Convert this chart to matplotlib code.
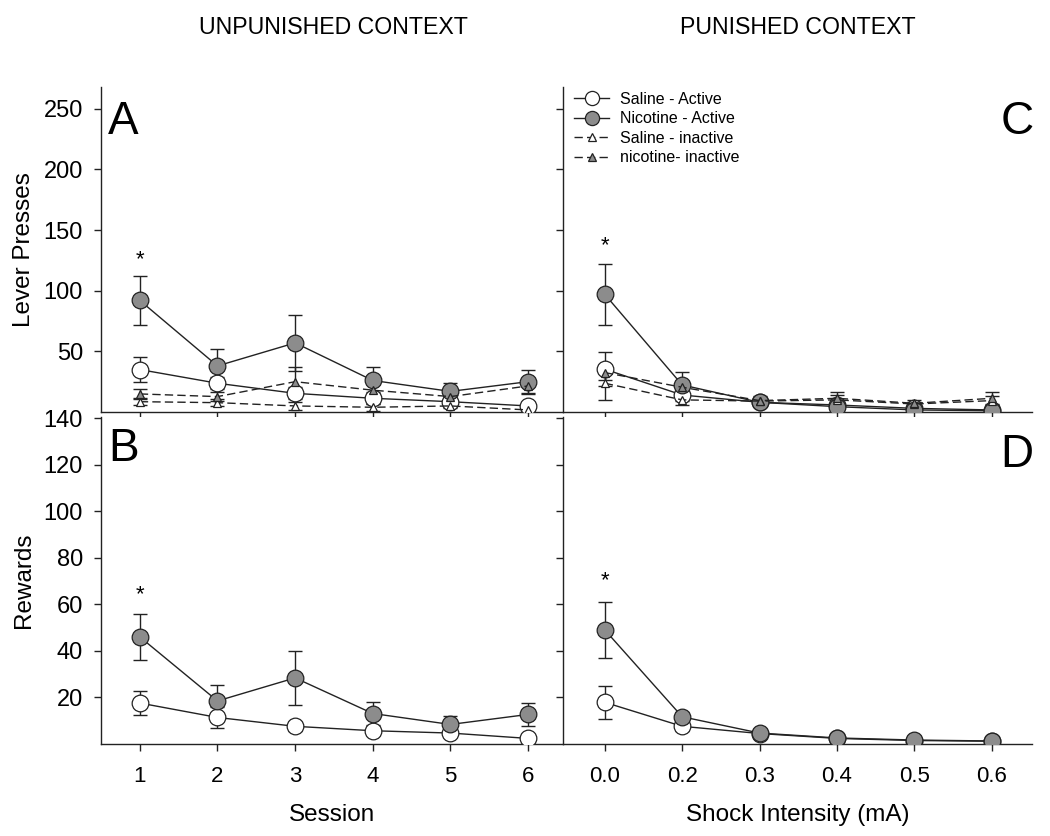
import numpy as np
import matplotlib
matplotlib.use('Agg')
import matplotlib.pyplot as plt

plt.rcParams['font.family'] = ['Liberation Sans', 'DejaVu Sans']

# dados
sessoes = [1, 2, 3, 4, 5, 6]
choques = ['0.0', '0.2', '0.3', '0.4', '0.5', '0.6']

# painel A - pressoes na alavanca, contexto sem punicao
a_sal_ativo = [35, 23.7, 15.4, 11.3, 8.5, 5]
a_sal_ativo_ep = [10, 5, 5, 5, 3, 3]
a_nic_ativo = [92, 38, 57, 26, 17, 25]
a_nic_ativo_ep = [20, 14, 23, 11, 7, 10]
a_sal_inat = [8.5, 7.7, 5, 3.9, 5, 1.7]
a_sal_inat_ep = [3, 3, 3, 3, 2, 2]
a_nic_inat = [14.9, 12.7, 25, 18, 12.7, 21.5]
a_nic_inat_ep = [4, 4, 12, 5, 4, 6]

# painel C - pressoes na alavanca, contexto punido
c_sal_ativo = [35.3, 14, 8, 5.8, 3, 1.7]
c_sal_ativo_ep = [14, 5, 3, 3, 2, 2]
c_nic_ativo = [97, 22.3, 8, 4.4, 1.7, 1]
c_nic_ativo_ep = [25, 11, 3, 3, 2, 2]
c_sal_inat = [23.7, 10, 9, 10, 6.6, 9.4]
c_sal_inat_ep = [14, 4, 3, 4, 2, 4]
c_nic_inat = [32.5, 20.4, 9.4, 11.3, 7.2, 11.3]
c_nic_inat_ep = [6, 5, 4, 5, 3, 5]

# painel B - recompensas, contexto sem punicao
b_sal = [17.6, 11.4, 7.6, 5.7, 4.7, 2.4]
b_sal_ep = [5.2, 4.5, 2, 2, 1, 1]
b_nic = [46, 18.5, 28.4, 13.1, 8.4, 12.7]
b_nic_ep = [10, 7, 11.6, 5, 3.6, 5]

# painel D - recompensas, contexto punido
d_sal = [17.9, 7.6, 4.5, 2.4, 1.5, 1.2]
d_sal_ep = [7, 2, 1, 1, 0.5, 0.5]
d_nic = [49, 11.7, 4.7, 2.6, 1.7, 1.3]
d_nic_ep = [12, 2, 1, 1, 0.5, 0.5]

cinza = '#8c8c8c'
fig = plt.figure(figsize=(10.5, 8.36), dpi=100)

W, H = 1050, 836
def eixo(x0, x1, y0, y1):
    return fig.add_axes([x0 / W, (H - y1) / H, (x1 - x0) / W, (y1 - y0) / H])

ax_a = eixo(101, 563, 87, 412)
ax_c = eixo(563, 1032, 87, 412)
ax_b = eixo(101, 563, 417, 744)
ax_d = eixo(563, 1032, 417, 744)

def serie(ax, x, y, ep, face, tracejado=False, triangulo=False, rotulo=None):
    ax.errorbar(x, y, yerr=ep, fmt='none', ecolor='#222222', elinewidth=1,
                capsize=5, capthick=1, zorder=2)
    ax.plot(x, y, linestyle='--' if tracejado else '-', color='#222222', lw=1,
            marker='^' if triangulo else 'o', ms=6 if triangulo else 12,
            mfc=face, mec='#222222', mew=0.9, label=rotulo, zorder=3,
            dashes=(6, 3) if tracejado else (None, None))

xs = np.array(sessoes)
xc = np.arange(len(choques))

serie(ax_a, xs, a_sal_ativo, a_sal_ativo_ep, 'white')
serie(ax_a, xs, a_nic_ativo, a_nic_ativo_ep, cinza)
serie(ax_a, xs, a_sal_inat, a_sal_inat_ep, 'white', True, True)
serie(ax_a, xs, a_nic_inat, a_nic_inat_ep, cinza, True, True)

serie(ax_c, xc, c_sal_ativo, c_sal_ativo_ep, 'white', rotulo='Saline - Active')
serie(ax_c, xc, c_nic_ativo, c_nic_ativo_ep, cinza, rotulo='Nicotine - Active')
serie(ax_c, xc, c_sal_inat, c_sal_inat_ep, 'white', True, True, rotulo='Saline - inactive')
serie(ax_c, xc, c_nic_inat, c_nic_inat_ep, cinza, True, True, rotulo='nicotine- inactive')

serie(ax_b, xs, b_sal, b_sal_ep, 'white')
serie(ax_b, xs, b_nic, b_nic_ep, cinza)

serie(ax_d, xc, d_sal, d_sal_ep, 'white')
serie(ax_d, xc, d_nic, d_nic_ep, cinza)

for ax in [ax_a, ax_b, ax_c, ax_d]:
    for lado in ['top', 'right']:
        ax.spines[lado].set_visible(False)
    for lado in ['left', 'bottom']:
        ax.spines[lado].set_linewidth(1)
        ax.spines[lado].set_color('#222222')
    ax.tick_params(direction='out', length=5, width=1, labelsize=17, color='#222222')
    ax.tick_params(axis='y', pad=8)

ax_a.set_xlim(0.5, 6.45)
ax_b.set_xlim(0.5, 6.45)
ax_c.set_xlim(-0.54, 5.52)
ax_d.set_xlim(-0.54, 5.52)
ax_a.set_ylim(0, 268)
ax_c.set_ylim(0, 268)
ax_b.set_ylim(0, 140.5)
ax_d.set_ylim(0, 140.5)

ax_a.set_yticks([50, 100, 150, 200, 250])
ax_c.set_yticks([50, 100, 150, 200, 250])
ax_b.set_yticks([20, 40, 60, 80, 100, 120, 140])
ax_d.set_yticks([20, 40, 60, 80, 100, 120, 140])
ax_c.set_yticklabels([])
ax_d.set_yticklabels([])

ax_a.set_xticks(xs)
ax_a.set_xticklabels([])
ax_b.set_xticks(xs)
ax_b.set_xticklabels([str(s) for s in sessoes])
ax_c.set_xticks(xc)
ax_c.set_xticklabels([])
ax_d.set_xticks(xc)
ax_d.set_xticklabels(choques)
ax_b.tick_params(axis='x', pad=11, labelsize=16)
ax_d.tick_params(axis='x', pad=11, labelsize=16)

ax_a.set_ylabel('Lever Presses', fontsize=17.5, labelpad=6)
ax_b.set_ylabel('Rewards', fontsize=17.5, labelpad=6)
ax_b.set_xlabel('Session', fontsize=17.5, labelpad=12)
ax_d.set_xlabel('Shock Intensity (mA)', fontsize=17.5, labelpad=12)

# letras dos paineis
ax_a.text(0.015, 0.96, 'A', transform=ax_a.transAxes, fontsize=33, va='top', ha='left')
ax_b.text(0.015, 0.97, 'B', transform=ax_b.transAxes, fontsize=33, va='top', ha='left')
ax_c.text(1.003, 0.96, 'C', transform=ax_c.transAxes, fontsize=33, va='top', ha='right')
ax_d.text(1.003, 0.95, 'D', transform=ax_d.transAxes, fontsize=33, va='top', ha='right')

# asteriscos
ax_a.text(1, 126, '*', fontsize=16, ha='center', va='center')
ax_c.text(0, 137, '*', fontsize=16, ha='center', va='center')
ax_b.text(1, 64, '*', fontsize=16, ha='center', va='center')
ax_d.text(0, 70, '*', fontsize=16, ha='center', va='center')

ax_c.legend(loc='upper left', bbox_to_anchor=(0.0, 1.02), frameon=False, fontsize=11.5,
            markerscale=0.85, handlelength=2.2, handletextpad=0.7, labelspacing=0.28,
            borderaxespad=0.3)

fig.text(333 / W, 1 - 28 / H, 'UNPUNISHED CONTEXT', fontsize=16.7, ha='center', va='center')
fig.text(798 / W, 1 - 28 / H, 'PUNISHED CONTEXT', fontsize=16.7, ha='center', va='center')

plt.savefig('out.png', dpi=100)
